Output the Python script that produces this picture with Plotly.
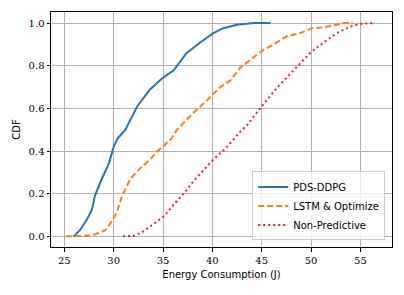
import plotly.graph_objects as go

# PDS-DDPG
pds_x = [25.95, 26.6, 27.3, 27.8, 28.1, 28.8, 29.5, 29.8, 30.0, 30.4, 30.85, 31.2, 31.5, 32.4, 33.7, 34.9, 36.1, 37.4, 38.8, 40.1, 41.1, 42.5, 44.2, 45.9]
pds_y = [0.0, 0.03, 0.08, 0.125, 0.19, 0.27, 0.34, 0.39, 0.42, 0.46, 0.485, 0.50, 0.53, 0.61, 0.69, 0.74, 0.78, 0.86, 0.91, 0.953, 0.976, 0.992, 1.0, 1.0]

# LSTM & Optimize
lstm_x = [25.2, 27.6, 28.5, 29.2, 29.8, 30.3, 30.85, 31.7, 32.7, 33.7, 34.4, 34.9, 35.4, 35.9, 36.4, 38.1, 39.5, 40.8, 41.8, 42.8, 43.9, 45.2, 46.2, 47.6, 48.9, 50.1, 51.3, 52.3, 53.3, 54.2]
lstm_y = [0.0, 0.003, 0.016, 0.03, 0.07, 0.11, 0.19, 0.27, 0.32, 0.36, 0.40, 0.415, 0.44, 0.46, 0.50, 0.58, 0.64, 0.70, 0.73, 0.79, 0.83, 0.875, 0.90, 0.94, 0.953, 0.976, 0.98, 0.99, 1.0, 1.0]

# Non-Predictive
np_x = [30.95, 32.2, 33.0, 34.0, 35.1, 36.1, 37.1, 38.1, 39.1, 40.1, 41.5, 42.8, 43.5, 45.0, 46.6, 48.2, 49.9, 51.3, 52.6, 54.0, 55.0, 56.3]
np_y = [0.0, 0.003, 0.023, 0.055, 0.094, 0.15, 0.20, 0.26, 0.31, 0.36, 0.42, 0.49, 0.52, 0.61, 0.70, 0.78, 0.86, 0.91, 0.953, 0.984, 0.996, 1.0]

x_ticks = [25, 30, 35, 40, 45, 50, 55]
y_ticks = [0.0, 0.2, 0.4, 0.6, 0.8, 1.0]
y_tick_text = ["0.0", "0.2", "0.4", "0.6", "0.8", "1.0"]

fig = go.Figure()
fig.add_trace(go.Scatter(x=pds_x, y=pds_y, mode="lines", name="PDS-DDPG",
                         line=dict(color="#1f77b4", width=2)))
fig.add_trace(go.Scatter(x=lstm_x, y=lstm_y, mode="lines", name="LSTM &amp; Optimize",
                         line=dict(color="#ff7f0e", width=2, dash="6px,3px")))
fig.add_trace(go.Scatter(x=np_x, y=np_y, mode="lines", name="Non-Predictive",
                         line=dict(color="#d62728", width=2, dash="2px,3px")))

tick_font = dict(family="DejaVu Serif", size=10, color="black")
lab_font = dict(family="DejaVu Sans", size=10, color="black")

# page body has an 8px default margin; size the figure to fit the window
fig.update_layout(
    width=396, height=287,
    margin=dict(l=43, r=12, t=4, b=48),
    paper_bgcolor="white", plot_bgcolor="white",
    showlegend=True,
    legend=dict(x=0.98, y=0.028, xanchor="right", yanchor="bottom",
                bgcolor="rgba(255,255,255,0.8)", bordercolor="#cccccc", borderwidth=1,
                font=dict(family="DejaVu Sans", size=10, color="black"),
                tracegroupgap=0, itemwidth=30),
    xaxis=dict(range=[23.65, 58.2], tickvals=x_ticks, ticktext=[str(v) for v in x_ticks],
               showgrid=True, gridcolor="#b0b0b0", gridwidth=0.8,
               showline=True, linecolor="black", linewidth=1, mirror=True,
               ticks="outside", ticklen=3.5, tickcolor="black", tickfont=tick_font,
               zeroline=False,
               title=dict(text="Energy Consumption (J)", font=lab_font, standoff=6)),
    yaxis=dict(range=[-0.05, 1.052], tickvals=y_ticks, ticktext=y_tick_text,
               showgrid=True, gridcolor="#b0b0b0", gridwidth=0.8,
               showline=True, linecolor="black", linewidth=1, mirror=True,
               ticks="outside", ticklen=3.5, tickcolor="black", tickfont=tick_font,
               zeroline=False,
               title=dict(text="CDF", font=lab_font, standoff=6)),
)

fig.write_html("out.html")
